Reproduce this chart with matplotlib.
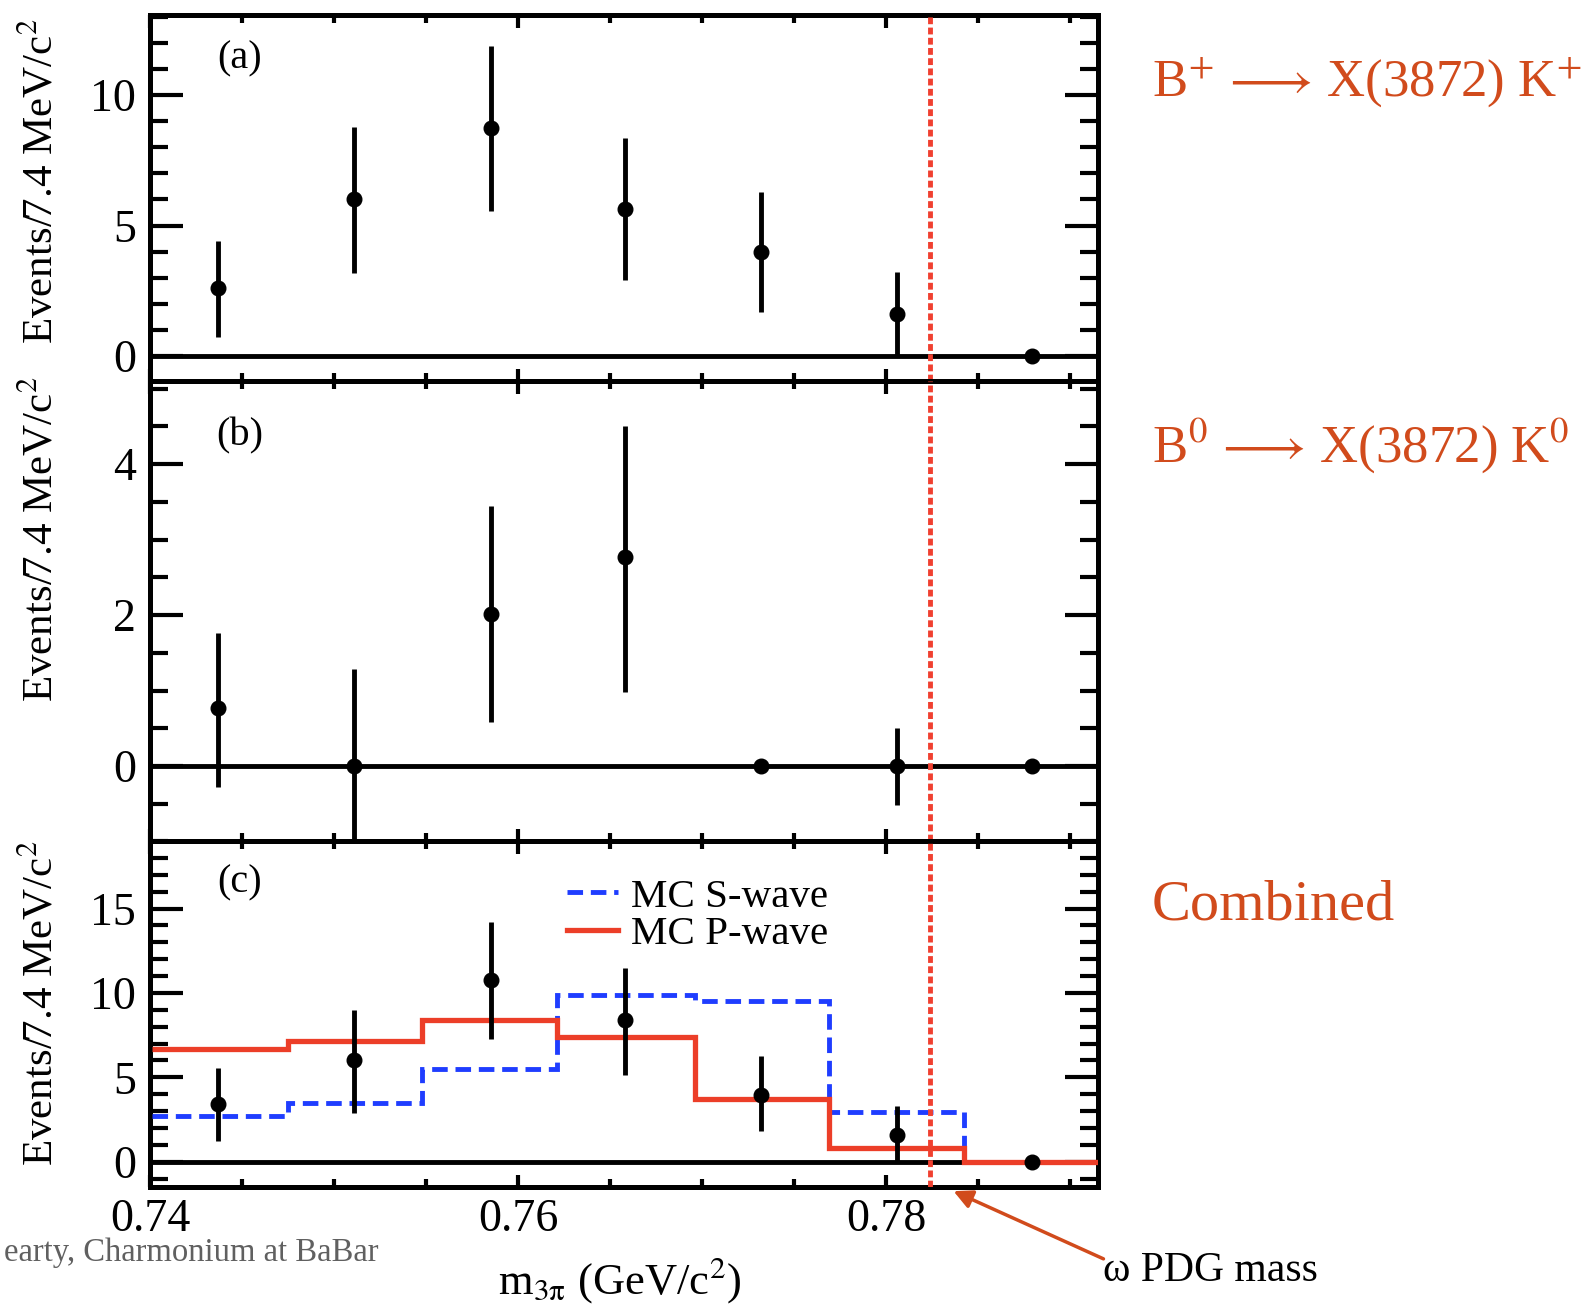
import numpy as np
import matplotlib
matplotlib.use("Agg")
import matplotlib.pyplot as plt
from matplotlib.patches import FancyArrowPatch
from matplotlib.ticker import MultipleLocator, FormatStrFormatter

plt.rcParams['font.family'] = ['Liberation Serif', 'DejaVu Serif']
plt.rcParams['mathtext.fontset'] = 'stix'

### m(3pi) binning, GeV/c^2 ###
m_centers = [0.7437, 0.7511, 0.7585, 0.7658, 0.7732, 0.7806, 0.7879]
m_edges = [0.7401, 0.7475, 0.7548, 0.7621, 0.7696, 0.7769, 0.7842, 0.7916]
omega_mass = 0.7824

### (a) B+ -> X(3872) K+ ###
evt_a = [2.6, 6.0, 8.72, 5.62, 4.0, 1.59, 0.0]
hi_a = [4.42, 8.76, 11.9, 8.37, 6.28, 3.22, 0.0]
lo_a = [0.74, 3.18, 5.54, 2.9, 1.7, 0.0, 0.0]

### (b) B0 -> X(3872) K0 ###
evt_b = [0.77, 0.0, 2.01, 2.77, 0.0, 0.0, 0.0]
hi_b = [1.77, 1.29, 3.44, 4.51, 0.0, 0.5, 0.0]
lo_b = [-0.28, -1.29, 0.58, 0.98, 0.0, -0.51, 0.0]

### (c) combined + MC shapes ###
evt_c = [3.4, 6.0, 10.75, 8.4, 3.95, 1.6, 0.0]
hi_c = [5.55, 9.0, 14.2, 11.5, 6.25, 3.3, 0.0]
lo_c = [1.25, 2.9, 7.25, 5.15, 1.8, 0.0, 0.0]
mc_swave = [2.7, 3.45, 5.5, 9.9, 9.5, 2.95, 0.0]
mc_pwave = [6.7, 7.15, 8.4, 7.4, 3.7, 0.8, 0.0]

ylims = [(-0.96, 13.07), (-0.99, 5.1), (-1.5, 19.0)]
ymajor = [5, 2, 5]
yminor = [1, 0.5, 1]
panel_tags = ['(a)', '(b)', '(c)']

orange = '#d14b1c'
red = '#ec3e28'
blue = '#1f3dff'

W, H = 1587, 1304
fig = plt.figure(figsize=(W / 100, H / 100), dpi=100)

def px(x, y):
    # pixel position from top-left -> figure fraction
    return x / W, 1 - y / H

left, right = 150, 1098
rows = [(15, 381), (381, 841), (841, 1187)]
data = [(evt_a, lo_a, hi_a), (evt_b, lo_b, hi_b), (evt_c, lo_c, hi_c)]

axes = []
for i, (top, bot) in enumerate(rows):
    ax = fig.add_axes([left / W, 1 - bot / H, (right - left) / W, (bot - top) / H])
    ax.set_xlim(0.74, 0.7915)
    ax.set_ylim(*ylims[i])
    ax.xaxis.set_major_locator(MultipleLocator(0.02))
    ax.xaxis.set_minor_locator(MultipleLocator(0.005))
    ax.xaxis.set_major_formatter(FormatStrFormatter('%.2f'))
    ax.yaxis.set_major_locator(MultipleLocator(ymajor[i]))
    ax.yaxis.set_minor_locator(MultipleLocator(yminor[i]))
    ax.tick_params(which='both', direction='in', top=True, right=True, width=3)
    ax.tick_params(axis='y', which='major', length=24, labelsize=33, pad=10)
    ax.tick_params(axis='y', which='minor', length=13)
    ax.tick_params(axis='x', which='major', length=9, labelsize=33, pad=8)
    ax.tick_params(axis='x', which='minor', length=6)
    for s in ax.spines.values():
        s.set_linewidth(3.6)
    if i < 2:
        ax.tick_params(axis='x', labelbottom=False)

    ax.axhline(0, color='k', lw=3.5, zorder=2)
    evt, lo, hi = data[i]
    yerr = [np.subtract(evt, lo), np.subtract(hi, evt)]
    ax.errorbar(m_centers, evt, yerr=yerr, fmt='o', color='k', ms=10.5,
                elinewidth=3.5, capsize=0, zorder=5)
    ax.axvline(omega_mass, color='#f04030', lw=3.5, ls=(0, (1.4, 0.7)), zorder=4.5)
    ax.text(0.095, 0.88, panel_tags[i], transform=ax.transAxes, fontsize=29,
            ha='center', va='center')
    axes.append(ax)

# MC signal shapes in the combined panel
axc = axes[2]
axc.stairs(mc_swave, m_edges, baseline=None, color=blue, lw=3.5, ls=(0, (3.2, 1.6)), zorder=3)
axc.stairs(mc_pwave, m_edges, baseline=None, color=red, lw=3.8, zorder=4)
axc.plot([], [], color=blue, lw=3.5, ls=(0, (3.2, 1.6)), label='MC S-wave')
axc.plot([], [], color=red, lw=3.8, label='MC P-wave')
axc.legend(loc='upper left', bbox_to_anchor=(0.44, 0.893), frameon=False, fontsize=29.5,
           handlelength=1.25, handletextpad=0.3, labelspacing=0.0,
           borderpad=0, borderaxespad=0)

# axis titles
ylab = r'Events/7.4 MeV/c$^2$'
for ytop in [18, 376, 840]:
    fig.text(*px(41, ytop), ylab, rotation=90, ha='center', va='top', fontsize=31)
fig.text(*px(620, 1280), r'm$_{\mathrm{3π}}$ (GeV/c$^2$)', ha='center', va='center',
         fontsize=32)

# channel annotations
fig.text(*px(1152, 96), r'B$^{+}\,\longrightarrow\,$X(3872) K$^{+}$', color=orange,
         fontsize=38, ha='left', va='baseline')
fig.text(*px(1152, 462), r'B$^{0}\,\longrightarrow\,$X(3872) K$^{0}$', color=orange,
         fontsize=38, ha='left', va='baseline')
fig.text(*px(1152, 919), 'Combined', color=orange, fontsize=42, ha='left', va='baseline')

fig.text(*px(1103, 1281), 'ω PDG mass', color='k', fontsize=30, ha='left', va='baseline')
fig.add_artist(FancyArrowPatch(
    px(1106, 1260), px(951, 1190), transform=fig.transFigure,
    arrowstyle='-|>', mutation_scale=28, color=orange, lw=2.5))

fig.text(*px(378, 1261), 'earty, Charmonium at BaBar', color='#606060', fontsize=23.5,
         ha='right', va='baseline')

plt.savefig('out.png', dpi=100)
